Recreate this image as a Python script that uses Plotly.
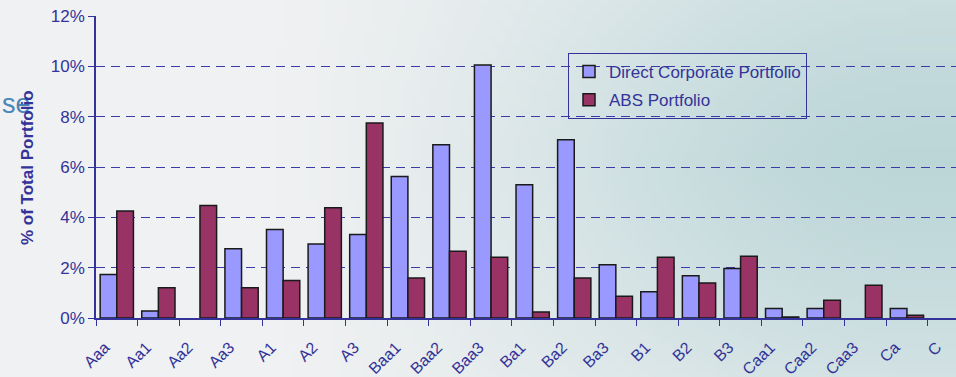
import base64
import struct
import zlib

import plotly.graph_objects as go

categories = ["Aaa", "Aa1", "Aa2", "Aa3", "A1", "A2", "A3", "Baa1", "Baa2", "Baa3",
              "Ba1", "Ba2", "Ba3", "B1", "B2", "B3", "Caa1", "Caa2", "Caa3", "Ca", "C"]
direct_corporate = [1.73, 0.28, 0.0, 2.75, 3.52, 2.94, 3.32, 5.62, 6.88, 10.05,
                    5.29, 7.08, 2.12, 1.04, 1.68, 1.97, 0.38, 0.38, 0.0, 0.38, 0.0]
abs_portfolio = [4.25, 1.20, 4.47, 1.20, 1.49, 4.38, 7.75, 1.59, 2.65, 2.41,
                 0.24, 1.59, 0.86, 2.41, 1.39, 2.45, 0.04, 0.71, 1.30, 0.11, 0.0]
y_ticks = [0, 2, 4, 6, 8, 10, 12]

W, H = 956, 377
ML, MR, MT, MB = 96, 0, 16, 59
PW, PH = W - ML - MR, H - MT - MB
NAVY = "#333399"
FONT = "Liberation Sans, Arial, sans-serif"


# ---- soft slide-style background gradient (decoration only) ----
def background_png(w, h):
    c0 = (240, 241, 242)
    c1 = (188, 214, 216)
    rows = []
    for j in range(h):
        yy = (j + 0.5) / h * H
        d = abs(yy - 160) / 220.0
        vy = max(0.0, 1.0 - 0.45 * d ** 1.4)
        row = bytearray()
        for i in range(w):
            xx = (i + 0.5) / w * W
            t = min(max((xx - 220) / 700.0, 0.0), 1.0)
            t = t * t * (3 - 2 * t)
            m = t * vy
            row += bytes(int(round(a + (b - a) * m)) for a, b in zip(c0, c1))
        rows.append(b"\x00" + bytes(row))
    raw = b"".join(rows)

    def chunk(tag, data):
        return (struct.pack(">I", len(data)) + tag + data +
                struct.pack(">I", zlib.crc32(tag + data) & 0xFFFFFFFF))

    png = (b"\x89PNG\r\n\x1a\n" +
           chunk(b"IHDR", struct.pack(">IIBBBBB", w, h, 8, 2, 0, 0, 0)) +
           chunk(b"IDAT", zlib.compress(raw, 9)) +
           chunk(b"IEND", b""))
    return "data:image/png;base64," + base64.b64encode(png).decode()


def nz(values):
    return [v if v > 0 else None for v in values]


x_idx = list(range(len(categories)))

fig = go.Figure()
fig.add_trace(go.Bar(
    x=x_idx, y=nz(direct_corporate), name="Direct Corporate Portfolio",
    marker=dict(color="#9999FF", line=dict(color="#1a1a1a", width=1.5)),
    legendgroup="a",
))
fig.add_trace(go.Bar(
    x=x_idx, y=nz(abs_portfolio), name="ABS Portfolio",
    marker=dict(color="#993366", line=dict(color="#1a1a1a", width=1.5)),
    legendgroup="b",
))

fig.update_layout(
    width=W, height=H,
    margin=dict(l=ML, r=MR, t=MT, b=MB, pad=0, autoexpand=False),
    paper_bgcolor="#eff0f1",
    plot_bgcolor="rgba(0,0,0,0)",
    barmode="group", bargap=0.2, bargroupgap=0.0,
    font=dict(family=FONT, color=NAVY),
    showlegend=True,
    legend=dict(
        x=(568 - ML) / PW, y=(H - MB - 53) / PH, xanchor="left", yanchor="top",
        bgcolor="rgba(0,0,0,0)", bordercolor=NAVY, borderwidth=1,
        font=dict(family=FONT, size=17, color=NAVY),
        tracegroupgap=3, itemwidth=30,
    ),
    images=[dict(
        source=background_png(120, 48), xref="paper", yref="paper",
        x=-ML / PW, y=1 + MT / PH, sizex=W / PW, sizey=H / PH,
        xanchor="left", yanchor="top", sizing="stretch", layer="below",
    )],
    xaxis=dict(
        range=[-0.5, 20.18],
        tickmode="array",
        tickvals=[i - 0.5 for i in x_idx],
        ticktext=categories,
        tickangle=-45,
        tickfont=dict(family=FONT, size=16, color=NAVY),
        ticks="outside", ticklen=6, tickcolor=NAVY, tickwidth=1,
        showline=True, linecolor=NAVY, linewidth=1.5,
        showgrid=False, zeroline=False, automargin=False,
        ticklabelshift=9, ticklabelstandoff=6,
    ),
    yaxis=dict(
        range=[0, 12],
        tickmode="array", tickvals=y_ticks,
        ticktext=[f"{v}%" for v in y_ticks],
        tickfont=dict(family=FONT, size=17, color=NAVY),
        ticks="outside", ticklen=6, tickcolor=NAVY, tickwidth=1,
        showline=True, linecolor=NAVY, linewidth=1.5,
        showgrid=True, gridcolor="#3b3ba8", gridwidth=1, griddash="9px,6px",
        zeroline=False, automargin=False,
    ),
    annotations=[
        dict(text="se", xref="paper", yref="paper",
             x=(0 - ML) / PW, y=(H - MB - 104) / PH, xanchor="left", yanchor="middle",
             showarrow=False, font=dict(family=FONT, size=27, color="#4a86b8")),
        dict(text="<b>% of Total Portfolio</b>", xref="paper", yref="paper",
             x=(27 - ML) / PW, y=(H - MB - 168) / PH, xanchor="center", yanchor="middle",
             textangle=-90, showarrow=False,
             font=dict(family=FONT, size=17, color=NAVY)),
    ],
)

fig.write_html("out.html")
